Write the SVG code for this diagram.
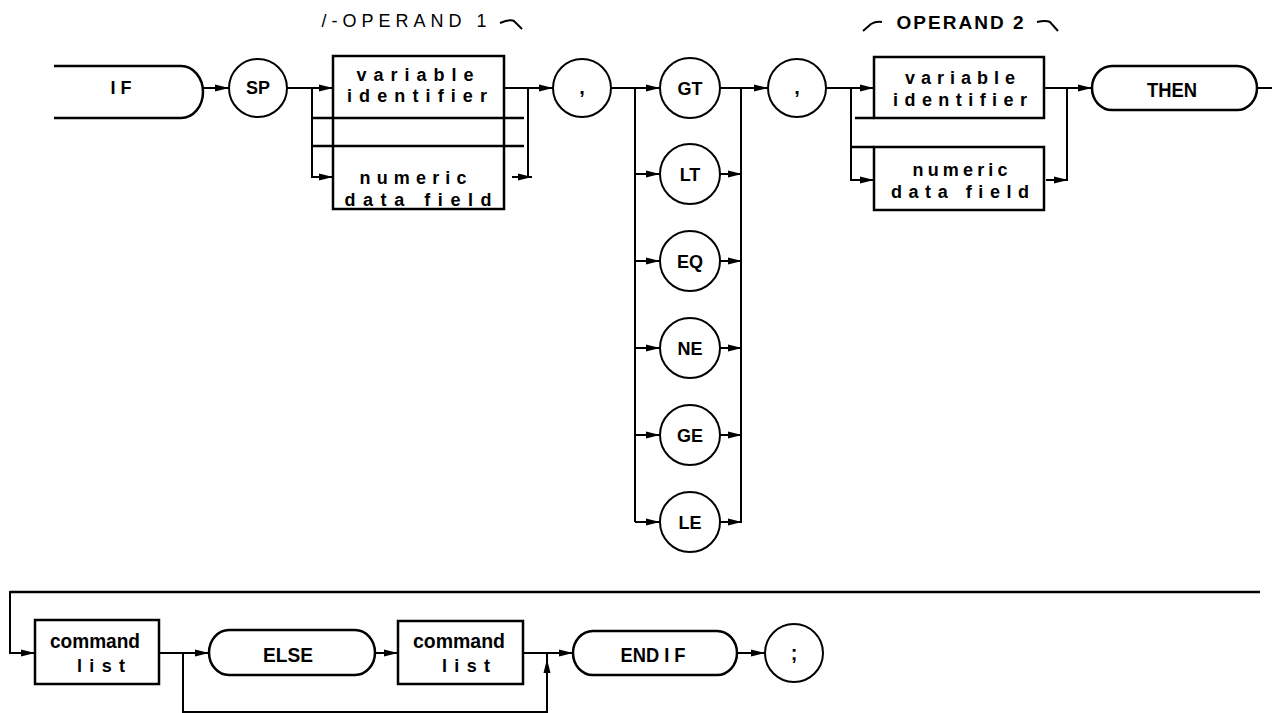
<svg xmlns="http://www.w3.org/2000/svg" width="1272" height="713" viewBox="0 0 1272 713">
<style>
.s{fill:none;stroke:#000;stroke-width:2.5}
.c{fill:none;stroke:#000;stroke-width:2}
.t{font-family:"Liberation Sans",Arial,sans-serif;fill:#000;text-anchor:middle;font-weight:bold}
.n{font-weight:normal}
.lbl{font-size:18px}
.box{font-size:18px}
.big{font-size:20px}
</style>
<defs>
<marker id="a" markerWidth="15" markerHeight="9" refX="14" refY="4.5" orient="auto" markerUnits="userSpaceOnUse"><path d="M0,1 L14,4.5 L0,8 z" fill="#000"/></marker>
</defs>
<rect width="1272" height="713" fill="#fff"/>

<g id="connectors">
<path class="c" d="M203,88 H229" marker-end="url(#a)"/>
<path class="c" d="M287,88 H333" marker-end="url(#a)"/>
<path class="c" d="M312,88 V177 H333" marker-end="url(#a)"/>
<path class="s" d="M313,118 H524 M313,146 H524"/>
<path class="c" d="M504,88 H553" marker-end="url(#a)"/>
<path class="c" d="M528,88 V177"/>
<path class="c" d="M512,177 H532" marker-end="url(#a)"/>
<path class="c" d="M611,88 H660" marker-end="url(#a)"/>
<path class="c" d="M635,88 V522"/>
<path class="c" d="M635,174 H660" marker-end="url(#a)"/>
<path class="c" d="M635,261 H660" marker-end="url(#a)"/>
<path class="c" d="M635,348 H660" marker-end="url(#a)"/>
<path class="c" d="M635,435 H660" marker-end="url(#a)"/>
<path class="c" d="M635,522 H660" marker-end="url(#a)"/>
<path class="c" d="M741,88 V522"/>
<path class="c" d="M720,88 H768" marker-end="url(#a)"/>
<path class="c" d="M720,174 H742" marker-end="url(#a)"/>
<path class="c" d="M720,261 H742" marker-end="url(#a)"/>
<path class="c" d="M720,348 H742" marker-end="url(#a)"/>
<path class="c" d="M720,435 H742" marker-end="url(#a)"/>
<path class="c" d="M720,522 H742" marker-end="url(#a)"/>
<path class="c" d="M826,88 H874" marker-end="url(#a)"/>
<path class="c" d="M851,88 V180 H874" marker-end="url(#a)"/>
<path class="s" d="M855,118 H874 M852,147 H874"/>
<path class="c" d="M1044,88 H1092" marker-end="url(#a)"/>
<path class="c" d="M1067,88 V180"/>
<path class="c" d="M1046,180 H1068" marker-end="url(#a)"/>
<path class="c" d="M1257,88 H1272"/>
<path class="s" d="M10,592 H1260"/>
<path class="c" d="M10,591 V653 H35" marker-end="url(#a)"/>
<path class="c" d="M159,653 H209" marker-end="url(#a)"/>
<path class="c" d="M183,653 V712 H547 V653"/>
<path class="c" d="M547,675 V659" marker-end="url(#a)"/>
<path class="c" d="M375,653 H398" marker-end="url(#a)"/>
<path class="c" d="M523,653 H573" marker-end="url(#a)"/>
<path class="c" d="M737,653 H765" marker-end="url(#a)"/>
</g>

<g id="labels">
<text class="t n" x="404" y="27" font-size="18" textLength="165" lengthAdjust="spacing">/-OPERAND 1</text>
<path class="c" d="M500,23 Q510,19 514,21 L522,29"/>
<path class="c" d="M863,31 L871,24 Q876,21 882,22"/>
<text class="t" x="960" y="29" font-size="19" textLength="127" lengthAdjust="spacing">OPERAND 2</text>
<path class="c" d="M1037,22 Q1046,20 1050,22 L1058,31"/>
</g>

<g id="if">
<path class="s" d="M54,66 H181 A22,26 0 0 1 181,118 H54"/>
<text class="t lbl" x="121" y="94">I F</text>
</g>
<g id="sp">
<circle class="c" cx="258" cy="88" r="29"/>
<text class="t lbl" x="258" y="94">SP</text>
</g>
<g id="op1-var">
<path class="s" d="M333,118 V56 H504 V118"/>
<text class="t box" x="415" y="81" textLength="117" lengthAdjust="spacing">variable</text>
<text class="t box" x="417" y="102" textLength="140" lengthAdjust="spacing">identifier</text>
</g>
<g id="op1-num">
<path class="s" d="M333,118 V209 H504 V118"/>
<text class="t box" x="413" y="184" textLength="107" lengthAdjust="spacing">numeric</text>
<text class="t box" x="418" y="206" textLength="147" lengthAdjust="spacing">data field</text>
</g>
<g id="comma1">
<circle class="c" cx="582" cy="88" r="29"/>
<text class="t big" x="582" y="94">,</text>
</g>
<g id="gt"><circle class="c" cx="690" cy="88" r="30"/><text class="t lbl" x="690" y="95">GT</text></g>
<g id="lt"><circle class="c" cx="690" cy="174" r="30"/><text class="t lbl" x="690" y="181">LT</text></g>
<g id="eq"><circle class="c" cx="690" cy="261" r="30"/><text class="t lbl" x="690" y="268">EQ</text></g>
<g id="ne"><circle class="c" cx="690" cy="348" r="30"/><text class="t lbl" x="690" y="355">NE</text></g>
<g id="ge"><circle class="c" cx="690" cy="435" r="30"/><text class="t lbl" x="690" y="442">GE</text></g>
<g id="le"><circle class="c" cx="690" cy="522" r="30"/><text class="t lbl" x="690" y="529">LE</text></g>
<g id="comma2">
<circle class="c" cx="797" cy="88" r="29"/>
<text class="t big" x="797" y="94">,</text>
</g>
<g id="op2-var">
<rect class="s" x="874" y="57" width="170" height="61"/>
<text class="t box" x="960" y="84" textLength="110" lengthAdjust="spacing">variable</text>
<text class="t box" x="960" y="106" textLength="134" lengthAdjust="spacing">identifier</text>
</g>
<g id="op2-num">
<rect class="s" x="874" y="147" width="170" height="63"/>
<text class="t box" x="960" y="176" textLength="95" lengthAdjust="spacing">numeric</text>
<text class="t box" x="960" y="198" textLength="138" lengthAdjust="spacing">data field</text>
</g>
<g id="then">
<path class="s" d="M1112,66 H1237 A20,22 0 0 1 1237,110 H1112 A20,22 0 0 1 1112,66 Z"/>
<text class="t big" x="1172" y="97" textLength="50" lengthAdjust="spacingAndGlyphs">THEN</text>
</g>
<g id="cmdlist1">
<rect class="s" x="35" y="620" width="124" height="64"/>
<text class="t big" x="95" y="648" textLength="90" lengthAdjust="spacingAndGlyphs">command</text>
<text class="t box" x="101" y="672" textLength="48" lengthAdjust="spacing">list</text>
</g>
<g id="else">
<path class="s" d="M229,630 H355 A20,22.5 0 0 1 355,675 H229 A20,22.5 0 0 1 229,630 Z"/>
<text class="t big" x="288" y="662" textLength="50" lengthAdjust="spacingAndGlyphs">ELSE</text>
</g>
<g id="cmdlist2">
<rect class="s" x="398" y="621" width="125" height="63"/>
<text class="t big" x="459" y="648" textLength="92" lengthAdjust="spacingAndGlyphs">command</text>
<text class="t box" x="466" y="672" textLength="48" lengthAdjust="spacing">list</text>
</g>
<g id="endif">
<path class="s" d="M593,631 H717 A20,22 0 0 1 717,675 H593 A20,22 0 0 1 593,631 Z"/>
<text class="t big" x="653" y="662" textLength="65" lengthAdjust="spacingAndGlyphs">END I F</text>
</g>
<g id="semicolon">
<circle class="c" cx="794" cy="653" r="29"/>
<text class="t big" x="794" y="660">;</text>
</g>
</svg>
